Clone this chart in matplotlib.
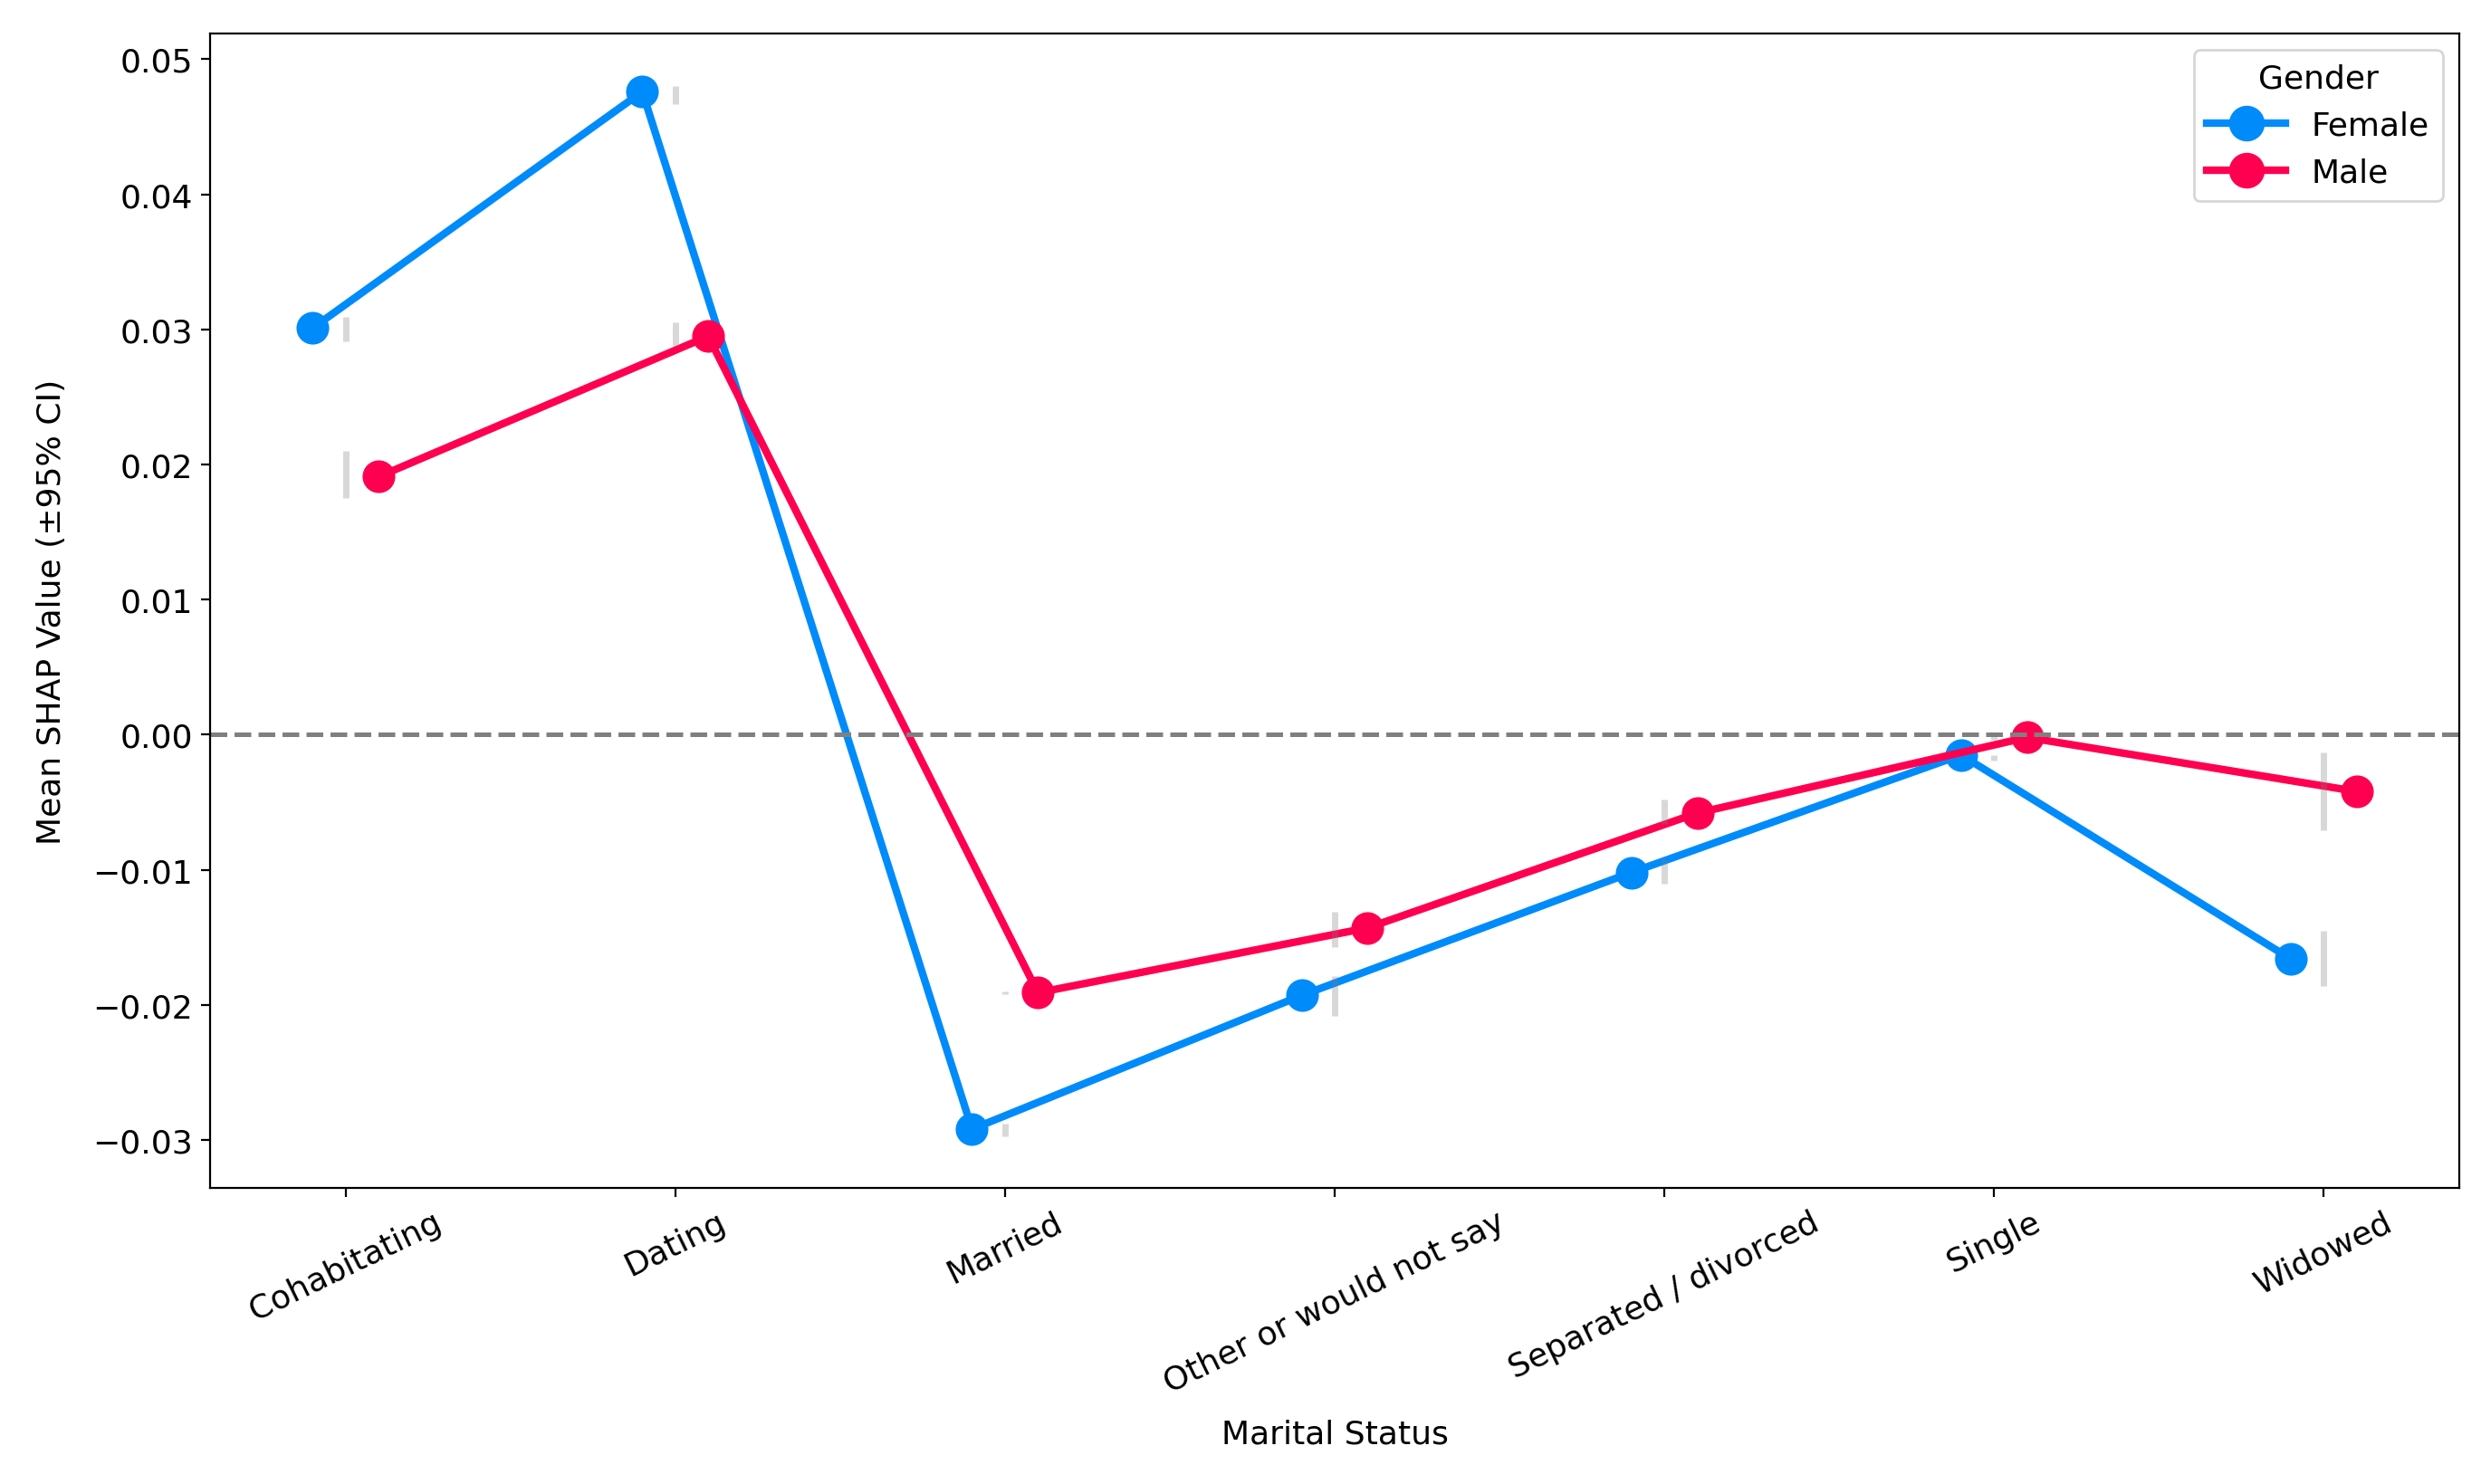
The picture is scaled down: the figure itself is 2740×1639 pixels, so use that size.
import numpy as np
import matplotlib
matplotlib.use("Agg")
import matplotlib.pyplot as plt

# values
categories = ["Cohabitating", "Dating", "Married", "Other or would not say",
              "Separated / divorced", "Single", "Widowed"]
female_mean = [0.0301, 0.0476, -0.0292, -0.0193, -0.0102, -0.0015, -0.0166]
female_lo = [0.0291, 0.0467, -0.0297, -0.0208, -0.0110, -0.0019, -0.0186]
female_hi = [0.0309, 0.0480, -0.0288, -0.0179, -0.0092, -0.0015, -0.0145]
male_mean = [0.0191, 0.0295, -0.0191, -0.0143, -0.0058, -0.0002, -0.0042]
male_lo = [0.0175, 0.0288, -0.0192, -0.0157, -0.0066, -0.0004, -0.0071]
male_hi = [0.0210, 0.0305, -0.0190, -0.0131, -0.0048, 0.0000, -0.0013]

blue = "#008bfb"
red = "#ff0051"

fig = plt.figure(figsize=(13.7, 8.2), dpi=200)
ax = fig.add_axes([0.0848, 0.1991, 0.9063, 0.7775])

x = np.arange(len(categories))
ax.plot(x - 0.1, female_mean, color=blue, lw=3, marker="o", ms=12, label="Female")
ax.plot(x + 0.1, male_mean, color=red, lw=3, marker="o", ms=12, label="Male")

# CI bars sit on the category position (not dodged)
ax.vlines(x, female_lo, female_hi, color="gray", alpha=0.3, lw=2.5)
ax.vlines(x, male_lo, male_hi, color="gray", alpha=0.3, lw=2.5)

ax.axhline(0, color="gray", linestyle="--", lw=1.8)

ax.set_xticks(x)
ax.set_xticklabels(categories, rotation=26, fontsize=13)
ax.tick_params(axis="y", labelsize=13)
ax.set_xlabel("Marital Status", fontsize=13, labelpad=8)
ax.set_ylabel("Mean SHAP Value (±95% CI)", fontsize=13, labelpad=10)

ax.legend(title="Gender", loc="upper right", fontsize=13, title_fontsize=13,
          handlelength=2.4, markerscale=1.1)

fig.savefig("out.png", dpi=200)
